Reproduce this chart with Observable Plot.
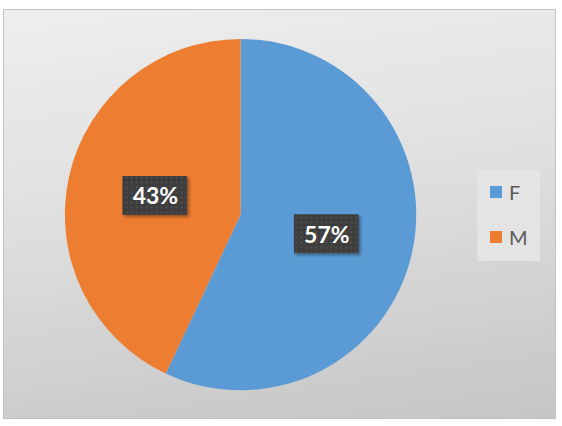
<!DOCTYPE html>
<html><head><meta charset="utf-8">
<script src="https://cdn.jsdelivr.net/npm/d3@7"></script>
<script src="https://cdn.jsdelivr.net/npm/@observablehq/plot@0.6"></script>
<style>
html,body{margin:0;padding:0;background:#fff;width:562px;height:426px;overflow:hidden;}
#frame{position:absolute;left:3px;top:9px;width:551px;height:408px;border:1px solid #c2c2c2;
  background:linear-gradient(172deg,#eeeeee 0%,#dfdfdf 45%,#c5c5c5 100%);}
#chart{position:absolute;left:0;top:0;}
#legend{position:absolute;left:473px;top:160px;width:63px;height:91px;background:#e4e4e4;
  font-family:Lato,"Open Sans",sans-serif;font-size:20px;color:#595959;}
.item{position:absolute;left:13px;display:flex;align-items:center;height:24px;}
.sw{width:12px;height:12px;margin-right:7px;}
</style></head>
<body>
<div id="frame"><div id="chart"></div><div id="legend"></div></div>
<script>
const categories = ["F", "M"];
const values = [57, 43];
const labels = ["57%", "43%"];
const colors = ["#5B9BD5", "#ED7D31"];

const data = categories.map((c, i) => ({category: c, value: values[i], label: labels[i]}));
const arcs = d3.pie().sort(null).value(d => d.value)(data);
const labelR = 0.5;
const labelPts = arcs.map(a => {
  const m = (a.startAngle + a.endAngle) / 2;
  return {x: labelR * Math.sin(m), y: labelR * Math.cos(m), label: a.data.label};
});

function slices(index, scales) {
  const cx = scales.x(0), cy = scales.y(0), r = scales.x(1) - scales.x(0);
  const color = scales.color || d3.scaleOrdinal(categories, colors);
  const g = d3.create("svg:g").attr("transform", `translate(${cx},${cy})`);
  const arc = d3.arc().innerRadius(0).outerRadius(r);
  g.selectAll("path").data(arcs).join("path")
    .attr("d", arc).attr("fill", d => color(d.data.category));
  return g.node();
}

function labelBoxes(index, scales) {
  const g = d3.create("svg:g");
  const defs = g.append("defs");
  const pat = defs.append("pattern").attr("id", "dots").attr("patternUnits", "userSpaceOnUse")
    .attr("width", 5).attr("height", 5);
  pat.append("rect").attr("width", 5).attr("height", 5).attr("fill", "#3e3e3e");
  pat.append("rect").attr("x", 2).attr("y", 2).attr("width", 1.6).attr("height", 1.6).attr("fill", "#575757");
  const f = defs.append("filter").attr("id", "sh").attr("x", "-20%").attr("y", "-20%").attr("width", "150%").attr("height", "150%");
  f.append("feDropShadow").attr("dx", 2).attr("dy", 2).attr("stdDeviation", 1.8).attr("flood-color", "#000").attr("flood-opacity", 0.35);
  const w = 65, h = 39;
  g.selectAll("rect.box").data(labelPts).join("rect").attr("class", "box")
    .attr("x", d => scales.x(d.x) - w / 2).attr("y", d => scales.y(d.y) - h / 2)
    .attr("width", w).attr("height", h).attr("fill", "url(#dots)").attr("filter", "url(#sh)");
  return g.node();
}

const W = 552, H = 408, cx = 237, cy = 205, R = 176;
const chart = Plot.plot({
  width: W, height: H,
  marginLeft: cx - R, marginRight: W - (cx + R),
  marginTop: cy - R, marginBottom: H - (cy + R),
  style: {background: "transparent", overflow: "visible"},
  x: {domain: [-1, 1], axis: null},
  y: {domain: [-1, 1], axis: null},
  color: {domain: categories, range: colors},
  marks: [
    slices,
    labelBoxes,
    Plot.text(labelPts, {x: "x", y: "y", text: "label", fill: "white", fontWeight: "bold",
      fontSize: 23, fontFamily: "Lato, 'Open Sans', sans-serif", dy: 1})
  ]
});
document.getElementById("chart").appendChild(chart);

const legend = d3.select("#legend");
categories.forEach((c, i) => {
  const it = legend.append("div").attr("class", "item").style("top", (10 + i * 45) + "px");
  it.append("div").attr("class", "sw").style("background", colors[i]);
  it.append("span").text(c);
});
</script>
</body></html>
